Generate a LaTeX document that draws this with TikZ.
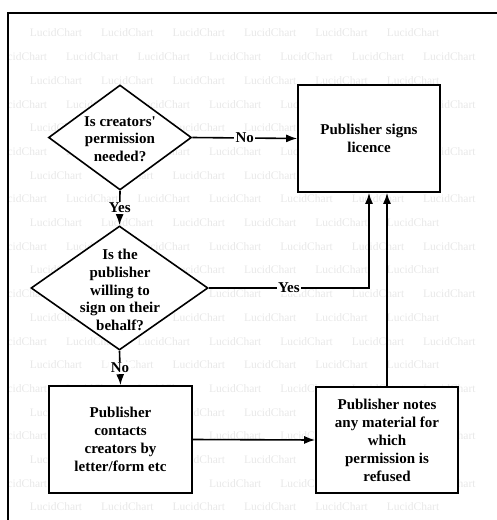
\documentclass[tikz,border=0pt]{standalone}
\usepackage{fontspec}
\setmainfont{Liberation Serif}
\usetikzlibrary{shapes,arrows.meta}

\begin{document}
\begin{tikzpicture}[x=1pt,y=-1pt,
  wmark/.style={text=black!9,font=\fontsize{11.5}{12}\selectfont,inner sep=0pt},
  box/.style={draw,line width=1.6pt,fill=white,align=center,inner sep=0pt,
    font=\fontsize{15}{18}\selectfont\bfseries},
  decision/.style={draw,diamond,line width=1.6pt,fill=white,inner sep=0pt},
  qtext/.style={align=center,inner sep=0pt,font=\fontsize{15}{17.7}\selectfont\bfseries},
  conn/.style={line width=1.6pt,-{Latex[length=11pt,width=8pt]}},
  lbl/.style={fill=white,inner sep=1.5pt,font=\fontsize{15}{18}\selectfont\bfseries}]

\useasboundingbox (0,0) rectangle (497,520);

% watermark
\begin{scope}
\clip (9,15) rectangle (497,520);
\foreach \r in {0,...,20}{
  \pgfmathsetmacro\wy{33+23.7*\r}
  \pgfmathsetmacro\wx{mod(\r,2)==0 ? 56 : 21}
  \pgfmathtruncatemacro\kmax{mod(\r,2)==0 ? 5 : 6}
  \foreach \k in {0,...,\kmax}
    \node[wmark] (wm-\r-\k) at (\wx+71.4*\k,\wy) {LucidChart};
}
\end{scope}

% frame
\draw[line width=2.5pt] (8,520) -- (8,13) -- (497,13);

% questions
\node[decision,minimum width=143pt,minimum height=105pt] (perm) at (120,137.5) {};
\node[qtext] (permtext) at (120,139) {Is creators\textquotesingle\\permission\\needed?};

\node[decision,minimum width=177pt,minimum height=124pt] (willing) at (119.5,288) {};
\node[qtext] (willingtext) at (120,290) {Is the\\publisher\\willing to\\sign on their\\behalf?};

% steps
\node[box,minimum width=142pt,minimum height=107pt] (signs) at (369,138.5) {Publisher signs\\licence};
\node[box,minimum width=143pt,minimum height=107pt] (contacts) at (120.5,439.5) {Publisher\\contacts\\creators by\\letter/form etc};
\node[box,minimum width=142pt,minimum height=106pt] (notes) at (387,440) {Publisher notes\\any material for\\which\\permission is\\refused};

% connectors
\draw[conn] (perm.east) -- node[lbl] (no1) {No} (signs.west);
\draw[conn] (perm.south) -- node[lbl] (yes1) {Yes} (willing.north);
\draw[conn] (willing.east) -| node[lbl,pos=0.25] (yes2) {Yes} (signs.south);
\draw[conn] (willing.south) -- node[lbl] (no2) {No} (contacts.north);
\draw[conn] (contacts.east) -- (notes.west);
\draw[conn] (notes.north) -- (notes.north |- signs.south);

\end{tikzpicture}
\end{document}
